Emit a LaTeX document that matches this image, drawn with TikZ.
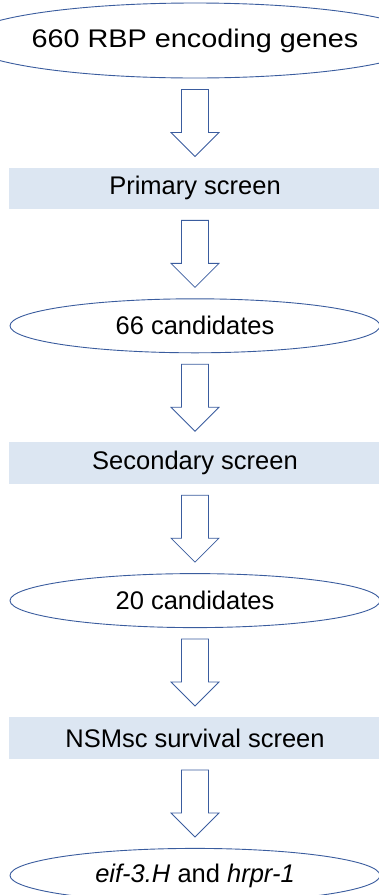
\documentclass[tikz,border=0pt]{standalone}
\usepackage{fontspec}
\setmainfont{Liberation Sans}
\usetikzlibrary{positioning,calc,shapes.geometric}
\definecolor{edge}{HTML}{3A5C9E}
\definecolor{stepfill}{HTML}{DCE6F2}

% hollow block arrow from one node down to the next
\newcommand{\blockarrow}[2]{%
  \draw[blk] let \p1=(#1.south), \p2=(#2.north) in
    (\x1-13.5pt,\y1-11pt) -- (\x1+13.5pt,\y1-11pt) -- (\x1+13.5pt,\y2+35pt)
    -- (\x1+24pt,\y2+35pt) -- (\x1,\y2+11pt) -- (\x1-24pt,\y2+35pt)
    -- (\x1-13.5pt,\y2+35pt) -- cycle;}

\begin{document}
\begin{tikzpicture}[
  node distance=89pt,
  font=\fontsize{25.5}{30}\selectfont,
  oval/.style={ellipse,draw=edge,line width=0.9pt,fill=white,inner sep=0pt,
               minimum width=370pt,minimum height=54pt},
  stage/.style={rectangle,fill=stepfill,inner sep=0pt,
                minimum width=372pt,minimum height=41.5pt},
  blk/.style={draw=edge,line width=0.8pt,fill=white,line join=miter}
]
\useasboundingbox (0pt,0pt) rectangle (378pt,-895pt);
\node[oval,minimum height=75pt] (genes) at (195pt,-40.5pt) {\scalebox{1.13}[1]{660 RBP encoding genes}};
\node[stage,below=of genes] (primary) {Primary screen};
\node[oval,below=of primary] (cand66) {66 candidates};
\node[stage,below=of cand66] (secondary) {Secondary screen};
\node[oval,below=of secondary] (cand20) {20 candidates};
\node[stage,below=of cand20] (nsmsc) {NSMsc survival screen};
\node[oval,below=of nsmsc] (hits) {\textit{eif-3.H} and \textit{hrpr-1}};
\blockarrow{genes}{primary}
\blockarrow{primary}{cand66}
\blockarrow{cand66}{secondary}
\blockarrow{secondary}{cand20}
\blockarrow{cand20}{nsmsc}
\blockarrow{nsmsc}{hits}
\end{tikzpicture}
\end{document}
